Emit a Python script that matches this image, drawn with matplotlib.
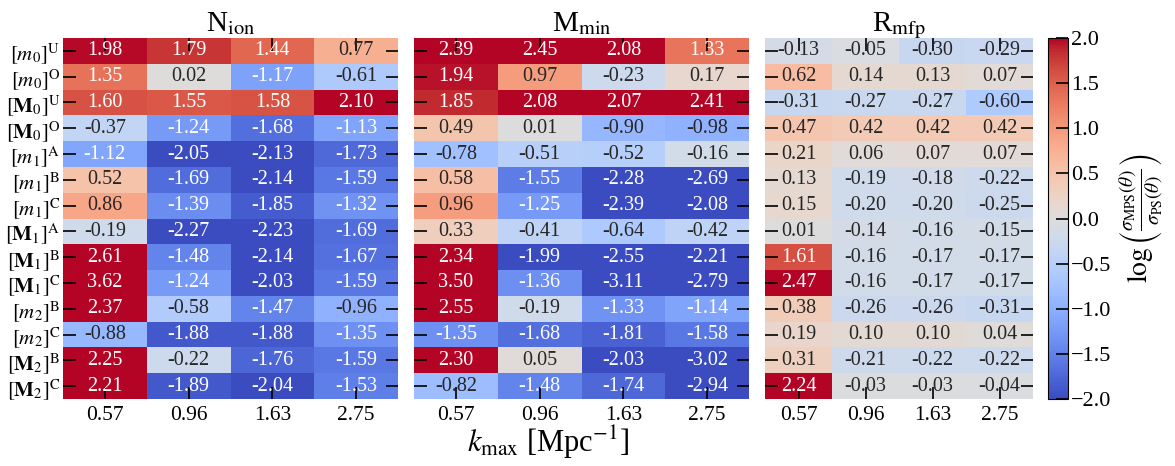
import numpy as np
import matplotlib
matplotlib.use("Agg")
import matplotlib.pyplot as plt
from matplotlib.colors import Normalize

plt.rcParams['font.family'] = ['Liberation Serif', 'DejaVu Serif']
plt.rcParams['mathtext.fontset'] = 'stix'

rows = [r"$[m_0]^{\rm U}$", r"$[m_0]^{\rm O}$", r"$[\mathbf{M}_0]^{\rm U}$", r"$[\mathbf{M}_0]^{\rm O}$",
        r"$[m_1]^{\rm A}$", r"$[m_1]^{\rm B}$", r"$[m_1]^{\rm C}$", r"$[\mathbf{M}_1]^{\rm A}$",
        r"$[\mathbf{M}_1]^{\rm B}$", r"$[\mathbf{M}_1]^{\rm C}$", r"$[m_2]^{\rm B}$", r"$[m_2]^{\rm C}$",
        r"$[\mathbf{M}_2]^{\rm B}$", r"$[\mathbf{M}_2]^{\rm C}$"]
kmax = ["0.57", "0.96", "1.63", "2.75"]
titles = [r"N$_{\rm ion}$", r"M$_{\rm min}$", r"R$_{\rm mfp}$"]

n_ion = [[1.98, 1.79, 1.44, 0.77],
         [1.35, 0.02, -1.17, -0.61],
         [1.60, 1.55, 1.58, 2.10],
         [-0.37, -1.24, -1.68, -1.13],
         [-1.12, -2.05, -2.13, -1.73],
         [0.52, -1.69, -2.14, -1.59],
         [0.86, -1.39, -1.85, -1.32],
         [-0.19, -2.27, -2.23, -1.69],
         [2.61, -1.48, -2.14, -1.67],
         [3.62, -1.24, -2.03, -1.59],
         [2.37, -0.58, -1.47, -0.96],
         [-0.88, -1.88, -1.88, -1.35],
         [2.25, -0.22, -1.76, -1.59],
         [2.21, -1.89, -2.04, -1.53]]

m_min = [[2.39, 2.45, 2.08, 1.33],
         [1.94, 0.97, -0.23, 0.17],
         [1.85, 2.08, 2.07, 2.41],
         [0.49, 0.01, -0.90, -0.98],
         [-0.78, -0.51, -0.52, -0.16],
         [0.58, -1.55, -2.28, -2.69],
         [0.96, -1.25, -2.39, -2.08],
         [0.33, -0.41, -0.64, -0.42],
         [2.34, -1.99, -2.55, -2.21],
         [3.50, -1.36, -3.11, -2.79],
         [2.55, -0.19, -1.33, -1.14],
         [-1.35, -1.68, -1.81, -1.58],
         [2.30, 0.05, -2.03, -3.02],
         [-0.82, -1.48, -1.74, -2.94]]

r_mfp = [[-0.13, -0.05, -0.30, -0.29],
         [0.62, 0.14, 0.13, 0.07],
         [-0.31, -0.27, -0.27, -0.60],
         [0.47, 0.42, 0.42, 0.42],
         [0.21, 0.06, 0.07, 0.07],
         [0.13, -0.19, -0.18, -0.22],
         [0.15, -0.20, -0.20, -0.25],
         [0.01, -0.14, -0.16, -0.15],
         [1.61, -0.16, -0.17, -0.17],
         [2.47, -0.16, -0.17, -0.17],
         [0.38, -0.26, -0.26, -0.31],
         [0.19, 0.10, 0.10, 0.04],
         [0.31, -0.21, -0.22, -0.22],
         [2.24, -0.03, -0.03, -0.04]]

W, H = 1175, 466
fig = plt.figure(figsize=(W / 100, H / 100), dpi=100)
cmap = plt.get_cmap("coolwarm")
norm = Normalize(vmin=-2, vmax=2)

def lum(c):
    rgb = np.array(c[:3])
    rgb = np.where(rgb <= 0.03928, rgb / 12.92, ((rgb + 0.055) / 1.055) ** 2.4)
    return rgb.dot([0.2126, 0.7152, 0.0722])

top, bot = 38, 399
boxes = [(63, 398), (414, 749), (765, 1033)]
for i, (data, (x0, x1)) in enumerate(zip([n_ion, m_min, r_mfp], boxes)):
    ax = fig.add_axes([x0 / W, (H - bot) / H, (x1 - x0) / W, (bot - top) / H])
    arr = np.array(data)
    mesh = ax.pcolormesh(arr, cmap=cmap, norm=norm)
    ax.set_ylim(len(rows), 0)
    for r in range(arr.shape[0]):
        for c in range(arr.shape[1]):
            v = arr[r, c]
            col = "w" if lum(cmap(norm(v))) < 0.408 else ".15"
            ax.text(c + 0.5, r + 0.5, f"{v:.2f}", ha="center", va="center",
                    fontsize=14.5, color=col)
    ax.set_xticks(np.arange(4) + 0.5)
    ax.set_xticklabels(kmax, fontsize=15.5)
    ax.set_yticks(np.arange(len(rows)) + 0.5)
    if i == 0:
        ax.set_yticklabels(rows, fontsize=15)
    else:
        ax.set_yticklabels([])
    ax.tick_params(direction="in", length=9, width=1.2, top=True, right=True, pad=5)
    ax.tick_params(axis="y", pad=2)
    for s in ax.spines.values():
        s.set_visible(False)
    ax.set_title(titles[i], fontsize=21, pad=5)

fig.text((63 + 1033) / 2 / W, 0.03, r"$k_{\rm max}$ [Mpc$^{-1}$]", ha="center", fontsize=22)

cax = fig.add_axes([1048 / W, (H - bot) / H, 20 / W, (bot - top) / H])
cb = fig.colorbar(mesh, cax=cax)
cb.set_ticks(np.arange(-2, 2.01, 0.5))
cb.ax.tick_params(direction="in", length=9, width=1.2, labelsize=16, pad=2)
cb.set_label(r"$\log\left(\frac{\sigma_{\rm MPS}(\theta)}{\sigma_{\rm PS}(\theta)}\right)$", fontsize=20, labelpad=4)

fig.savefig("out.png", dpi=100)
